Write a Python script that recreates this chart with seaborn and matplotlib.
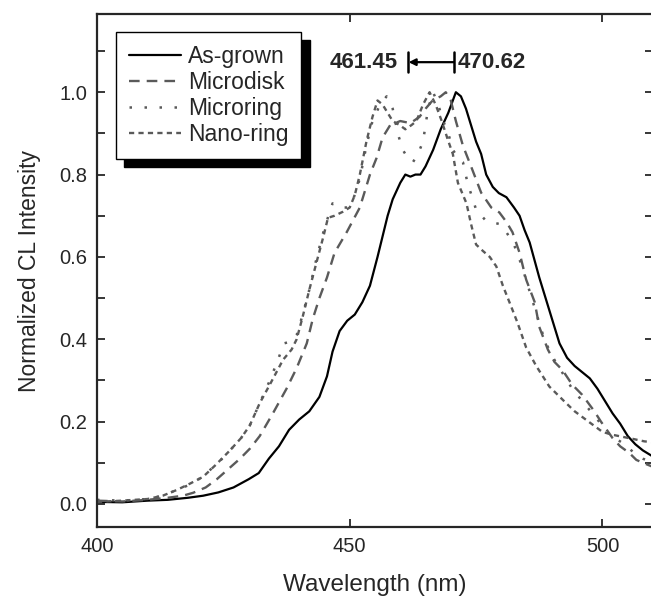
import numpy as np
import pandas as pd
import matplotlib
matplotlib.use("Agg")
import matplotlib.pyplot as plt
import seaborn as sns

# wavelength (nm) / normalized intensity
wl_asgrown = [400, 405, 410, 414, 418, 421, 424, 427, 430, 432, 434, 436, 438, 440, 442, 444,
              445.5, 446.6, 448, 449.5, 451, 452.5, 454, 455.5, 456.5, 457.5, 458.5, 460, 461, 462,
              463, 464, 465, 466.5, 468, 469.5, 471, 472, 473, 474, 475, 476, 477, 478.3, 479.5,
              481, 482.5, 483.6, 484.6, 485.6, 487.5, 489.5, 491.5, 493, 494.5, 496, 497.5, 499,
              500.5, 502, 503.5, 505, 506.5, 508, 510]
int_asgrown = [0.005, 0.004, 0.008, 0.01, 0.015, 0.02, 0.028, 0.04, 0.06, 0.075, 0.11, 0.14, 0.18,
               0.205, 0.225, 0.26, 0.31, 0.37, 0.42, 0.445, 0.46, 0.49, 0.53, 0.60, 0.65, 0.70, 0.74,
               0.78, 0.80, 0.795, 0.80, 0.80, 0.82, 0.86, 0.91, 0.95, 1.0, 0.99, 0.96, 0.92, 0.88,
               0.85, 0.80, 0.77, 0.755, 0.745, 0.72, 0.70, 0.665, 0.635, 0.55, 0.47, 0.39, 0.355,
               0.335, 0.32, 0.305, 0.28, 0.25, 0.22, 0.195, 0.165, 0.145, 0.13, 0.115]

wl_microdisk = [400, 405, 410, 414, 417, 419, 421.5, 423.7, 426, 428.3, 430.3, 432.2, 434.8, 437.5,
                439.5, 441.5, 442.7, 444, 445.5, 447, 449.4, 452, 454, 455.3, 456.5, 458, 460, 462,
                463.8, 465, 466.4, 468, 469, 470, 471, 472.4, 474, 476, 478, 479.6, 481, 482.2,
                483.6, 484.9, 486.6, 487.5, 489.2, 490.5, 492.1, 494, 496, 498.4, 499.7, 502, 503.5,
                505.3, 506.7, 508, 510]
int_microdisk = [0.008, 0.006, 0.01, 0.015, 0.02, 0.027, 0.04, 0.06, 0.085, 0.11, 0.135, 0.165, 0.22,
                 0.28, 0.33, 0.39, 0.45, 0.50, 0.55, 0.61, 0.66, 0.72, 0.80, 0.84, 0.89, 0.92, 0.93,
                 0.925, 0.94, 0.96, 0.98, 0.99, 1.0, 0.98, 0.93, 0.87, 0.82, 0.756, 0.72, 0.708,
                 0.685, 0.66, 0.61, 0.545, 0.49, 0.43, 0.375, 0.345, 0.325, 0.29, 0.265, 0.225, 0.20,
                 0.16, 0.14, 0.124, 0.107, 0.10, 0.09]

wl_microring = [400, 405, 410, 413, 416, 419, 421, 424, 426.3, 428.5, 430.2, 432.2, 434.2, 435.8,
                437, 438.5, 439.5, 440.7, 442, 443.5, 445, 446.6, 448, 449.5, 450.7, 452, 453.3,
                454.5, 456, 457.3, 458.5, 459.5, 460.5, 461.5, 462.5, 463.5, 464.5, 465.5, 466.5,
                467.5, 468.5, 469.5, 470.4, 471.5, 472.4, 473.3, 475, 477, 479.6, 481, 482.5, 484,
                485.5, 487, 488.5, 490, 492, 494, 496, 498, 500, 501.4, 504, 506, 508, 510]
int_microring = [0.01, 0.008, 0.012, 0.02, 0.035, 0.05, 0.068, 0.10, 0.13, 0.16, 0.19, 0.245, 0.30,
                 0.35, 0.39, 0.395, 0.41, 0.46, 0.52, 0.60, 0.67, 0.73, 0.72, 0.72, 0.74, 0.79, 0.87,
                 0.93, 0.97, 0.99, 0.96, 0.90, 0.86, 0.84, 0.83, 0.85, 0.88, 0.96, 1.0, 0.97, 0.93,
                 0.90, 0.86, 0.84, 0.83, 0.78, 0.715, 0.687, 0.68, 0.66, 0.63, 0.58, 0.52, 0.46,
                 0.40, 0.36, 0.32, 0.28, 0.25, 0.22, 0.19, 0.168, 0.148, 0.127, 0.11, 0.10]

wl_nanoring = [400, 405, 410, 413, 415.8, 418.5, 421, 423.5, 426.3, 428.5, 430.2, 432.2, 434.2,
               436.8, 438.5, 439.5, 440.7, 442, 443.5, 444.8, 445.7, 447, 448.7, 450, 451, 452,
               453.3, 454.5, 455.5, 456.5, 457.5, 458.5, 459.9, 461, 462.2, 463.2, 464.5, 465.8,
               467, 468.2, 469.4, 470.4, 471.4, 473.1, 474, 475, 476.3, 477.7, 479, 480.3, 481.6,
               483.2, 484.9, 486.9, 489.5, 492.8, 494.5, 496.8, 500, 502, 504, 506, 508.3, 510]
int_nanoring = [0.005, 0.008, 0.012, 0.02, 0.034, 0.05, 0.066, 0.095, 0.13, 0.16, 0.19, 0.245, 0.29,
                0.35, 0.375, 0.40, 0.455, 0.52, 0.59, 0.65, 0.695, 0.70, 0.71, 0.72, 0.75, 0.80,
                0.88, 0.94, 0.98, 0.97, 0.95, 0.93, 0.92, 0.91, 0.92, 0.93, 0.97, 1.0, 0.97, 0.93,
                0.885, 0.85, 0.78, 0.73, 0.68, 0.63, 0.615, 0.60, 0.577, 0.53, 0.49, 0.44, 0.38,
                0.335, 0.285, 0.245, 0.225, 0.204, 0.175, 0.168, 0.163, 0.158, 0.152, 0.15]

peak_asgrown = 470.62
peak_nanoring = 461.45

sns.set_style("ticks")
plt.rcParams["font.family"] = ["Liberation Sans", "DejaVu Sans"]

fig = plt.figure(figsize=(6.51, 5.97), dpi=100)
ax = fig.add_axes([97 / 651, 70 / 597, 556 / 651, 513 / 597])

series = [
    ("As-grown", wl_asgrown, int_asgrown, "black", "-", 1.6),
    ("Microdisk", wl_microdisk, int_microdisk, "#5a5a5a", (0, (4.5, 3)), 1.7),
    ("Microring", wl_microring, int_microring, "#5a5a5a", (0, (1, 5)), 1.8),
    ("Nano-ring", wl_nanoring, int_nanoring, "#5a5a5a", (0, (2.2, 1.8)), 1.7),
]
for name, wl, inten, col, ls, lw in series:
    df = pd.DataFrame({"wl": wl, "I": inten})
    sns.lineplot(data=df, x="wl", y="I", ax=ax, color=col, linestyle=ls, linewidth=lw,
                 label=name, estimator=None)

ax.set_xlim(400, 510)
ax.set_ylim(-0.056, 1.19)
ax.set_xticks([400, 450, 500])
ax.set_yticks([0.0, 0.2, 0.4, 0.6, 0.8, 1.0])
ax.set_yticks(np.arange(0.1, 1.15, 0.2), minor=True)
ax.set_yticklabels(["0.0", "0.2", "0.4", "0.6", "0.8", "1.0"])
ax.tick_params(which="both", direction="in", top=True, right=True, length=6, width=1.3,
               labelsize=14.5, pad=7)
for sp in ax.spines.values():
    sp.set_linewidth(1.6)

ax.set_xlabel("Wavelength (nm)", fontsize=17.5, labelpad=13)
ax.set_ylabel("Normalized CL Intensity", fontsize=16.5, labelpad=13)

leg = ax.legend(loc="upper left", bbox_to_anchor=(0.034, 0.965), borderaxespad=0,
                fontsize=16.5, frameon=True, fancybox=False, edgecolor="black", framealpha=1,
                handlelength=2.3, labelspacing=0.14, borderpad=0.55, handletextpad=0.3,
                shadow={"ox": 6, "oy": -6, "color": "black", "alpha": 1})
leg.get_frame().set_linewidth(1.0)

# peak shift marker
ybar = 1.073
ax.plot([peak_nanoring, peak_nanoring], [1.049, 1.097], color="black", lw=1.8)
ax.plot([peak_asgrown, peak_asgrown], [1.049, 1.097], color="black", lw=1.8)
ax.annotate("", xy=(peak_nanoring + 0.2, ybar), xytext=(peak_asgrown, ybar),
            arrowprops=dict(arrowstyle="-|>", color="black", lw=1.6, mutation_scale=10,
                            shrinkA=0, shrinkB=0))
ax.text(peak_nanoring - 2.0, ybar, f"{peak_nanoring:.2f}", ha="right", va="center",
        fontsize=16, fontweight="bold")
ax.text(peak_asgrown + 0.7, ybar, f"{peak_asgrown:.2f}", ha="left", va="center",
        fontsize=16, fontweight="bold")

fig.savefig("out.png", dpi=100)
